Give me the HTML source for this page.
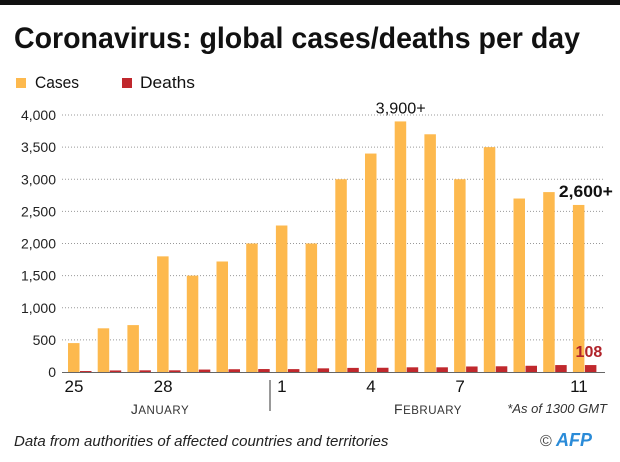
<!DOCTYPE html>
<html><head><meta charset="utf-8"><style>
body{margin:0;background:#fff;font-family:"Liberation Sans",sans-serif}
#wrap{position:relative;width:620px;height:462px;overflow:hidden}
</style></head><body>
<div id="wrap">
<svg id="svg" width="620" height="462">
<rect x="0" y="0" width="620" height="5" fill="#111"/>
<text x="14" y="48" font-size="30" font-weight="bold" fill="#111" textLength="566" lengthAdjust="spacingAndGlyphs">Coronavirus: global cases/deaths per day</text>
<rect x="16" y="78" width="10" height="10" fill="#fdb94e"/>
<text x="35" y="88" font-size="17" fill="#111" textLength="44" lengthAdjust="spacingAndGlyphs">Cases</text>
<rect x="122" y="78" width="10" height="10" fill="#c0282d"/>
<text x="140" y="88" font-size="17" fill="#111" textLength="55" lengthAdjust="spacingAndGlyphs">Deaths</text>
<g id="grid"></g><g id="bars"></g><g id="labels"></g>
<line x1="270" y1="380" x2="270" y2="411" stroke="#333" stroke-width="1"/>
<text x="160" y="414" font-size="14" fill="#333" text-anchor="middle" letter-spacing="0.5">J<tspan font-size="11.5">ANUARY</tspan></text>
<text x="428" y="414" font-size="14" fill="#333" text-anchor="middle" letter-spacing="0.5">F<tspan font-size="11.5">EBRUARY</tspan></text>
<text x="607" y="413" font-size="13" font-style="italic" fill="#333" text-anchor="end">*As of 1300 GMT</text>
<text x="14" y="446" font-size="15" font-style="italic" fill="#222">Data from authorities of affected countries and territories</text>
<text x="540" y="446" font-size="16" fill="#444">©</text>
<text x="556" y="446" font-size="18" font-weight="bold" font-style="italic" fill="#2a8bd8">AFP</text>
</svg></div>
<script>
const days=["25","26","27","28","29","30","31","1","2","3","4","5","6","7","8","9","10","11"];
const tickLabels=["25","","","28","","","","1","","","4","","","7","","","","11"];
const cases=[450,680,730,1800,1500,1720,2000,2280,2000,3000,3400,3900,3700,3000,3500,2700,2800,2600];
const deaths=[15,24,26,26,38,43,46,45,57,64,66,73,73,86,89,97,108,108];
const yTicks=[0,500,1000,1500,2000,2500,3000,3500,4000];
const ns="http://www.w3.org/2000/svg";
const y0=372,y4000=115;
function y(v){return y0-(v/4000)*(y0-y4000);}
function x(i){return 68+i*29.7;}
function mk(t,a,p){const e=document.createElementNS(ns,t);for(const k in a)e.setAttribute(k,a[k]);document.getElementById(p).appendChild(e);return e;}
yTicks.forEach(v=>{
 if(v>0){const l=mk('line',{x1:62,x2:605,y1:y(v),y2:y(v),stroke:'#999','stroke-dasharray':'1,2','stroke-width':1},'grid');
 
 }
 const t=mk('text',{x:56,y:y(v)+5,'font-size':14,fill:'#222','text-anchor':'end'},'grid');t.textContent=v.toLocaleString('en-US');
 
 
});
const ax=mk('line',{x1:62,x2:605,y1:y0+0.5,y2:y0+0.5,stroke:'#666','stroke-width':1},'grid');


days.forEach((d,i)=>{
 const c=mk('rect',{x:x(i),y:y(cases[i]),width:11.5,height:y0-y(cases[i]),fill:'#fdb94e'},'bars');
 
 
 const r=mk('rect',{x:x(i)+12,y:y(deaths[i]),width:11.5,height:y0-y(deaths[i]),fill:'#c0282d'},'bars');
 
 
 if(tickLabels[i]){const t=mk('text',{x:x(i)+6,y:392,'font-size':17,fill:'#111','text-anchor':'middle'},'labels');t.textContent=tickLabels[i];
 
 }
});
const a1=mk('text',{x:x(11)+6,y:y(cases[11])-8,'font-size':16,fill:'#111','text-anchor':'middle',textLength:50,lengthAdjust:'spacingAndGlyphs'},'labels');a1.textContent='3,900+';


const a2=mk('text',{x:x(17)-14,y:y(cases[17])-8,'font-size':17,'font-weight':'bold',fill:'#111',textLength:54,lengthAdjust:'spacingAndGlyphs'},'labels');a2.textContent='2,600+';


const a3=mk('text',{x:x(17)+16,y:y(deaths[17])-8,'font-size':16,'font-weight':'bold',fill:'#b0232a','text-anchor':'middle'},'labels');a3.textContent='108';


</script>
</body></html>
